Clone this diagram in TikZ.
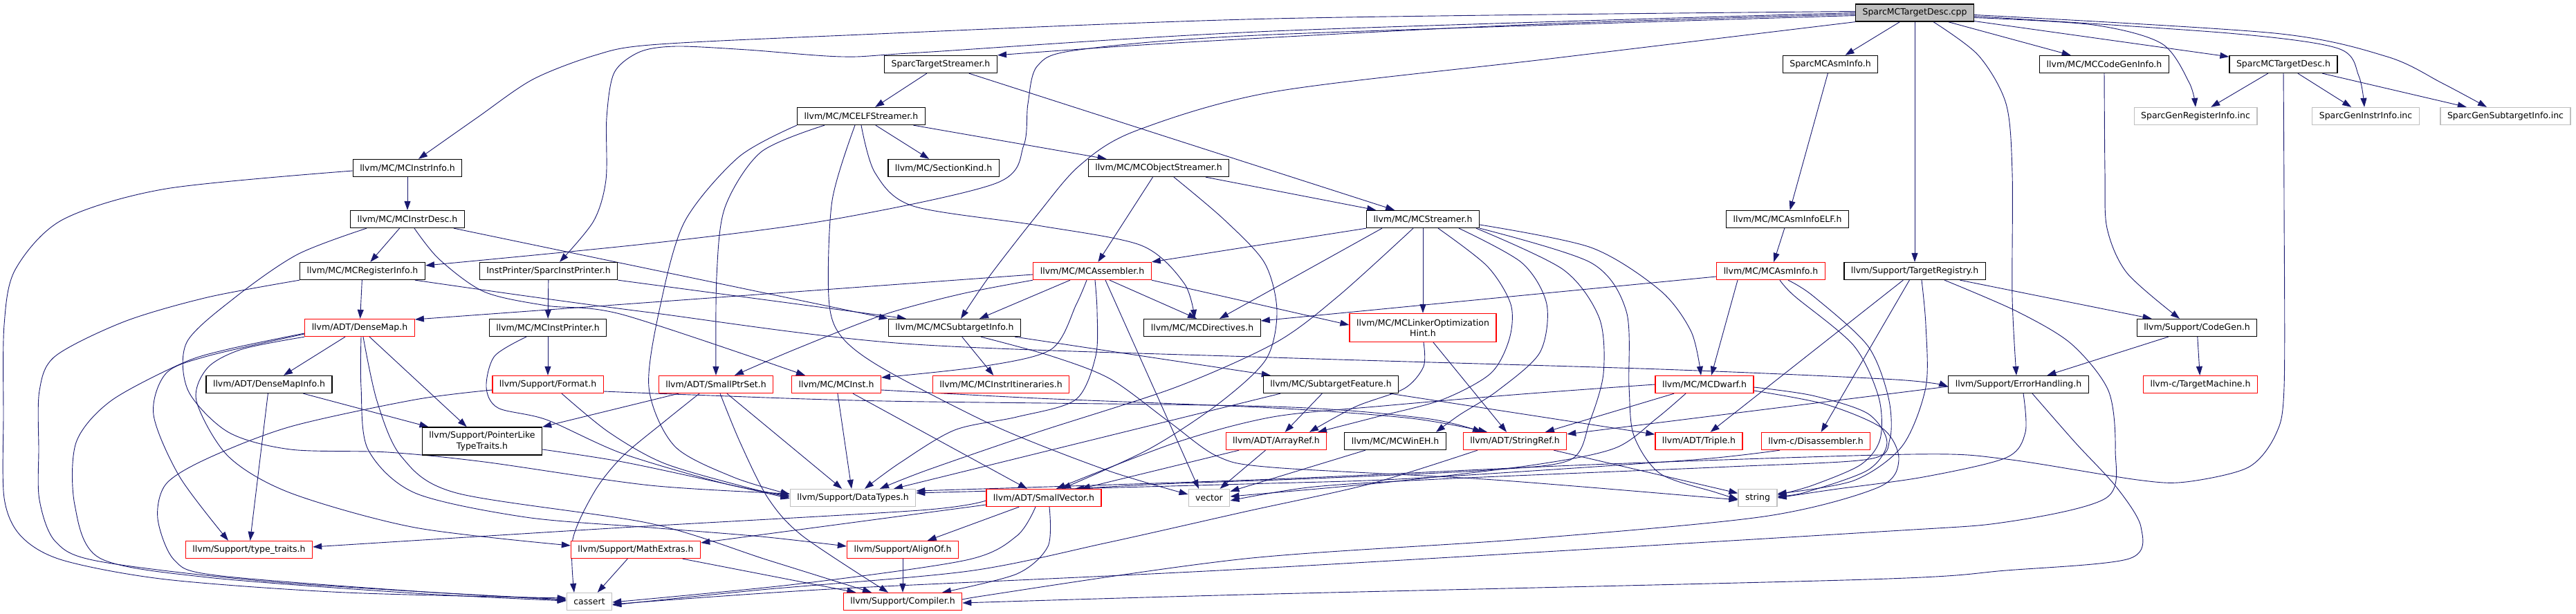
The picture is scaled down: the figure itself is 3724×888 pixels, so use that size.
\documentclass[tikz,border=0pt]{standalone}
\usepackage{fontspec}
\usetikzlibrary{arrows.meta,backgrounds}
\newfontfamily\dxfamily{DejaVu Sans}
\newcommand\dxfont{\dxfamily\fontsize{12.5}{15.3}\selectfont}
\definecolor{depblue}{RGB}{25,25,112}
\definecolor{extgray}{RGB}{191,191,191}

\begin{document}
\begin{tikzpicture}[
  x=1pt, y=-1pt,
  hdr/.style={draw=black, fill=white, line width=1.3pt, minimum height=25pt,
              inner xsep=10pt, inner ysep=1pt, font=\dxfont, align=center},
  trunc/.style={hdr, draw=red},
  ext/.style={hdr, draw=extgray},
  rootbox/.style={hdr, fill=extgray},
  dep/.style={draw=depblue, line width=0.9pt, -{Triangle[length=13pt,width=9pt]}}
]
\useasboundingbox (0,0) rectangle (3724,888);

\node[rootbox] (root) at (2768,18.5) {SparcMCTargetDesc.cpp};

\node[hdr] (sts) at (1360,93) {SparcTargetStreamer.h};
\node[hdr] (sai) at (2646,93) {SparcMCAsmInfo.h};
\node[hdr] (cgi) at (3042,93) {llvm/MC/MCCodeGenInfo.h};
\node[hdr] (std) at (3301,93) {SparcMCTargetDesc.h};

\node[hdr] (elf) at (1245,168) {llvm/MC/MCELFStreamer.h};
\node[ext] (gri) at (3174,168) {SparcGenRegisterInfo.inc};
\node[ext] (gii) at (3420,168) {SparcGenInstrInfo.inc};
\node[ext] (gsi) at (3622,168) {SparcGenSubtargetInfo.inc};

\node[hdr] (iinfo) at (589,243) {llvm/MC/MCInstrInfo.h};
\node[hdr] (sk) at (1364,243) {llvm/MC/SectionKind.h};
\node[hdr] (obj) at (1675,243) {llvm/MC/MCObjectStreamer.h};

\node[hdr] (idesc) at (589,317) {llvm/MC/MCInstrDesc.h};
\node[hdr] (mstr) at (2057,317) {llvm/MC/MCStreamer.h};
\node[hdr] (aelf) at (2584,317) {llvm/MC/MCAsmInfoELF.h};

\node[hdr] (reg) at (524,392) {llvm/MC/MCRegisterInfo.h};
\node[hdr] (ipr) at (793,392) {InstPrinter/SparcInstPrinter.h};
\node[trunc] (asmb) at (1579,392) {llvm/MC/MCAssembler.h};
\node[trunc] (ainfo) at (2560,392) {llvm/MC/MCAsmInfo.h};
\node[hdr] (treg) at (2768,392) {llvm/Support/TargetRegistry.h};

\node[trunc] (dmap) at (520,474) {llvm/ADT/DenseMap.h};
\node[hdr] (iprn) at (792,474) {llvm/MC/MCInstPrinter.h};
\node[hdr] (sti) at (1380,474) {llvm/MC/MCSubtargetInfo.h};
\node[hdr] (dir) at (1738,474) {llvm/MC/MCDirectives.h};
\node[trunc, minimum height=41pt] (loh) at (2057,474) {llvm/MC/MCLinkerOptimization\\Hint.h};
\node[hdr] (cg) at (3176,474) {llvm/Support/CodeGen.h};

\node[hdr] (dminfo) at (389,556) {llvm/ADT/DenseMapInfo.h};
\node[trunc] (fmt) at (792,556) {llvm/Support/Format.h};
\node[trunc] (sps) at (1035,556) {llvm/ADT/SmallPtrSet.h};
\node[trunc] (inst) at (1209,556) {llvm/MC/MCInst.h};
\node[trunc] (itin) at (1447,556) {llvm/MC/MCInstrItineraries.h};
\node[hdr] (sfeat) at (1924,556) {llvm/MC/SubtargetFeature.h};
\node[trunc] (dwarf) at (2464,556) {llvm/MC/MCDwarf.h};
\node[hdr] (err) at (2918,556) {llvm/Support/ErrorHandling.h};
\node[trunc] (tm) at (3181,556) {llvm-c/TargetMachine.h};

\node[hdr, minimum height=40pt] (pltt) at (697,638) {llvm/Support/PointerLike\\TypeTraits.h};
\node[trunc] (aref) at (1845,638) {llvm/ADT/ArrayRef.h};
\node[hdr] (wineh) at (2017,638) {llvm/MC/MCWinEH.h};
\node[trunc] (sref) at (2190,638) {llvm/ADT/StringRef.h};
\node[trunc] (triple) at (2456,638) {llvm/ADT/Triple.h};
\node[trunc] (disasm) at (2625,638) {llvm-c/Disassembler.h};

\node[ext] (dt) at (1233,720) {llvm/Support/DataTypes.h};
\node[trunc] (svec) at (1509,720) {llvm/ADT/SmallVector.h};
\node[ext] (vec) at (1748,720) {vector};
\node[ext] (str) at (2541,720) {string};

\node[trunc] (tt) at (360,795) {llvm/Support/type\_traits.h};
\node[trunc] (mext) at (919,795) {llvm/Support/MathExtras.h};
\node[trunc] (alof) at (1305,795) {llvm/Support/AlignOf.h};

\node[ext] (cassert) at (852,870) {cassert};
\node[trunc] (cmp) at (1305,870) {llvm/Support/Compiler.h};

\begin{scope}[on background layer]
\draw[dep] (root) -- (sai);
\draw[dep] (root) -- (cgi);
\draw[dep] (root) -- (std);
\draw[dep] (root) -- (treg);
\draw[dep] plot[smooth] coordinates {([yshift=-2pt]root.west) (2200,36) (1700,62) (sts.north east)};
\draw[dep] plot[smooth] coordinates {([yshift=2pt]root.west) (1840,27) (1200,52) (940,65) (860,80) (770,115) (690,170) ([xshift=16pt]iinfo.north)};
\draw[dep] plot[smooth] coordinates {(root.west) (1840,45) (1330,76) (1218,82) (1080,72) (978,67) (925,75) (888,105) (877,170) (876,260) (858,320) ([xshift=16pt]ipr.north)};
\draw[dep] plot[smooth] coordinates {([yshift=-4pt]root.west) (1840,50) (1560,72) (1500,95) (1486,150) (1480,210) (1440,265) (1200,318) (940,352) ([yshift=8pt]reg.east)};
\draw[dep] plot[smooth] coordinates {(root.south west) (2240,85) (1840,133) (1640,190) (1560,240) (1500,310) (1430,400) ([xshift=9pt]sti.north)};
\draw[dep] plot[smooth] coordinates {([yshift=-7pt]root.east) (3026,36) (3125,63) (3165,120) (gri.north)};
\draw[dep] plot[smooth] coordinates {([yshift=-5pt]root.east) (3222,48) (3380,70) (3410,110) ([xshift=-2pt]gii.north)};
\draw[dep] plot[smooth] coordinates {([yshift=-3pt]root.east) (3288,48) (3451,82) (3530,120) ([xshift=-27pt]gsi.north)};
\draw[dep] plot[smooth] coordinates {([xshift=27pt]root.south) (2860,80) (2900,150) (2909,250) (2909,430) ([xshift=-3pt]err.north)};

\draw[dep] (sts) -- (elf);
\draw[dep] (sts) -- (mstr);
\draw[dep] (sai) -- (aelf);
\draw[dep] (aelf) -- (ainfo);
\draw[dep] plot[smooth] coordinates {(cgi.south) (3043,250) (3046,330) (3075,395) ([xshift=-25pt]cg.north)};
\draw[dep] (std) -- (gri);
\draw[dep] (std) -- (gii);
\draw[dep] (std) -- (gsi);
\draw[dep] plot[smooth] coordinates {(std.south) (3302,300) (3302,560) (3290,628) (3250,676) (3160,697) (3090,694) (2900,664) (2765,657) (2300,672) (1840,693) ([yshift=10pt]dt.east)};

\draw[dep] (iinfo) -- (idesc);
\draw[dep] plot[smooth] coordinates {([yshift=-4pt]iinfo.west) (240,273) (90,318) (22,390) (6,470) (5,600) (6,720) (30,775) (90,810) (240,838) (500,857) ([yshift=5pt]cassert.west)};

\draw[dep] (idesc) -- (reg);
\draw[dep] ([xshift=67pt]idesc.south) -- (sti.north west);
\draw[dep] plot[smooth] coordinates {([xshift=10pt]idesc.south) (635,375) (700,422) (790,442) (900,455) ([xshift=-45pt]inst.north)};
\draw[dep] plot[smooth] coordinates {([xshift=-59pt]idesc.south) (430,368) (340,430) (270,495) (272,565) (330,625) (420,650) (560,654) (700,668) (940,702) ([yshift=6pt]dt.west)};

\draw[dep] (reg) -- (dmap);
\draw[dep] plot[smooth] coordinates {([xshift=76pt]reg.south) (760,428) (940,452) (1308,497) (1840,517) (2400,534) (2740,549) ([yshift=-3pt]err.west)};
\draw[dep] plot[smooth] coordinates {(reg.south west) (300,430) (180,465) (80,515) (57,565) (56,650) (57,723) (80,783) (144,812) (400,842) ([yshift=2pt]cassert.west)};

\draw[dep] (ipr) -- (iprn);
\draw[dep] (ipr.south east) -- ([xshift=-70pt]sti.north);

\draw[dep] (elf) -- (sk);
\draw[dep] (elf) -- (obj);
\draw[dep] plot[smooth] coordinates {([xshift=-53pt]elf.south) (1100,220) (1048,300) (1036,400) (sps.north)};
\draw[dep] plot[smooth] coordinates {([xshift=-93pt]elf.south) (1068,227) (990,320) (955,440) (938,560) (975,645) (1060,690) ([yshift=5pt]dt.west)};
\draw[dep] plot[smooth] coordinates {([xshift=-9pt]elf.south) (1203,290) (1198,430) (1215,485) (1275,532) (1440,617) (1600,680) ([yshift=5pt]vec.west)};
\draw[dep] plot[smooth] coordinates {(elf.south) (1265,250) (1320,298) (1500,326) (1650,355) (1712,410) ([xshift=-11pt]dir.north)};

\draw[dep] (obj) -- (asmb);
\draw[dep] (obj) -- (mstr);
\draw[dep] plot[smooth] coordinates {([xshift=22pt]obj.south) (1769,317) (1828,380) (1846,450) (1830,520) (1760,585) (1660,650) ([xshift=26pt]svec.north)};

\draw[dep] (mstr.south west) -- (asmb.north east);
\draw[dep] ([xshift=-59pt]mstr.south) -- ([xshift=25pt]dir.north);
\draw[dep] (mstr) -- (loh);
\draw[dep] plot[smooth] coordinates {([xshift=-14pt]mstr.south) (1935,428) (1845,495) (1700,560) (1500,625) (1340,680) ([xshift=39pt]dt.north)};
\draw[dep] plot[smooth] coordinates {([xshift=22pt]mstr.south) (2150,385) (2184,440) (2182,490) (2155,540) (2085,578) (1990,603) ([xshift=60pt]aref.north)};
\draw[dep] plot[smooth] coordinates {([xshift=52pt]mstr.south) (2200,380) (2236,440) (2226,510) (2165,565) (2110,600) ([xshift=59pt]wineh.north)};
\draw[dep] plot[smooth] coordinates {([xshift=77pt]mstr.south) (2260,390) (2312,460) (2318,540) (2298,610) (2270,665) (2150,680) (1900,692) (1680,700) ([xshift=45pt]svec.north)};
\draw[dep] plot[smooth] coordinates {(mstr.south east) (2300,380) (2351,450) (2355,560) (2362,630) (2400,685) (2480,712) ([yshift=-2pt]str.west)};
\draw[dep] plot[smooth] coordinates {([yshift=-8pt]mstr.east) (2300,358) (2400,420) (2445,480) ([xshift=-5pt]dwarf.north)};

\draw[dep] ([yshift=-5pt]asmb.west) -- ([yshift=12pt]dmap.east);
\draw[dep] plot[smooth] coordinates {(asmb.south west) (1390,425) (1278,455) (1150,505) ([xshift=27pt]sps.north)};
\draw[dep] ([xshift=-32pt]asmb.south) -- ([xshift=36pt]sti.north);
\draw[dep] plot[smooth] coordinates {([xshift=-8pt]asmb.south) (1556,440) (1520,505) (1420,530) ([yshift=10pt]inst.east)};
\draw[dep] plot[smooth] coordinates {([xshift=4pt]asmb.south) (1586,450) (1584,515) (1555,578) (1470,603) (1380,622) (1300,670) ([xshift=17pt]dt.north)};
\draw[dep] ([xshift=19pt]asmb.south) -- ([xshift=-15pt]vec.north);
\draw[dep] ([xshift=25pt]asmb.south) -- ([xshift=-8pt]dir.north);
\draw[dep] (asmb.south east) -- ([yshift=4pt]loh.west);

\draw[dep] ([yshift=-8pt]ainfo.west) -- ([yshift=10pt]dir.east);
\draw[dep] ([xshift=-48pt]ainfo.south) -- ([xshift=10pt]dwarf.north);
\draw[dep] plot[smooth] coordinates {([xshift=13pt]ainfo.south) (2594,428) (2680,500) (2716,575) (2718,635) (2690,672) (2620,702) ([yshift=4pt]str.east)};
\draw[dep] plot[smooth] coordinates {([xshift=25pt]ainfo.south) (2621,428) (2700,500) (2730,575) (2732,635) (2702,664) (2500,675) (2100,692) (1900,704) ([yshift=-4pt]vec.east)};

\draw[dep] (treg) -- (triple);
\draw[dep] (treg) -- (disasm);
\draw[dep] (treg) -- (cg);
\draw[dep] plot[smooth] coordinates {([xshift=10pt]treg.south) (2784,470) (2784,560) (2750,645) (2680,695) ([yshift=6pt]str.east)};
\draw[dep] plot[smooth] coordinates {([xshift=43pt]treg.south) (2915,450) (2994,497) (3048,565) (3058,650) (3045,720) (2900,755) (2700,770) (1800,823) (1200,852) ([yshift=-4pt]cassert.east)};

\draw[dep] (cg) -- (err);
\draw[dep] (cg) -- (tm);

\draw[dep] ([yshift=-3pt]err.west) -- ([yshift=-3pt]sref.north east);
\draw[dep] plot[smooth] coordinates {([xshift=7pt]err.south) (2928,625) (2900,662) (2780,690) (2650,708) (str.east)};
\draw[dep] plot[smooth] coordinates {([xshift=20pt]err.south) (3000,640) (3060,705) (3095,762) (3078,808) (2900,825) (2700,838) (1800,860) ([yshift=-2pt]cmp.east)};

\draw[dep] (dmap) -- (dminfo);
\draw[dep] (dmap) -- (pltt);
\draw[dep] plot[smooth] coordinates {([yshift=-9pt]dmap.west) (300,515) (240,540) (222,600) (260,690) ([xshift=-30pt]tt.north)};
\draw[dep] plot[smooth] coordinates {([yshift=-8pt]dmap.west) (330,505) (264,525) (160,580) (110,640) (108,730) (144,807) (300,835) (600,858) ([yshift=1pt]cassert.west)};
\draw[dep] plot[smooth] coordinates {(dmap.south west) (350,505) (300,532) (284,580) (330,660) (420,713) (600,763) ([yshift=6pt]mext.west)};
\draw[dep] plot[smooth] coordinates {([xshift=2pt]dmap.south) (522,560) (532,650) (600,713) (760,748) (940,763) (1100,776) ([yshift=5pt]alof.west)};
\draw[dep] plot[smooth] coordinates {([xshift=5pt]dmap.south) (545,580) (580,660) (660,713) (940,757) (1110,810) ([xshift=-45pt]cmp.north)};

\draw[dep] (dminfo) -- (tt);
\draw[dep] (dminfo) -- (pltt);

\draw[dep] (iprn) -- (fmt);
\draw[dep] plot[smooth] coordinates {([xshift=-31pt]iprn.south) (715,515) (703,560) (720,590) (790,607) (900,656) (1050,700) ([yshift=3pt]dt.west)};

\draw[dep] plot[smooth] coordinates {([yshift=-8pt]fmt.west) (600,578) (420,617) (300,663) (240,700) (228,750) (252,810) (312,832) (600,855) ([yshift=3pt]cassert.west)};
\draw[dep] plot[smooth] coordinates {([yshift=-10pt]fmt.east) (1000,571) (1278,580) (1840,588) (2060,605) ([xshift=-48pt]sref.north)};
\draw[dep] plot[smooth] coordinates {([xshift=20pt]fmt.south) (880,625) (960,670) (1080,705) ([yshift=1pt]dt.west)};

\draw[dep] plot[smooth] coordinates {([yshift=-12pt]pltt.east) (900,668) (1050,700) ([yshift=-1pt]dt.west)};

\draw[dep] ([xshift=-54pt]sps.south) -- (pltt.north east);
\draw[dep] plot[smooth] coordinates {([xshift=-24pt]sps.south) (960,610) (900,660) (860,710) (828,780) ([xshift=-22pt]cassert.north)};
\draw[dep] plot[smooth] coordinates {([xshift=6pt]sps.south) (1070,640) (1110,720) (1160,775) ([xshift=-21pt]cmp.north)};
\draw[dep] (sps) -- (dt);

\draw[dep] (inst) -- (dt);
\draw[dep] (inst) -- (svec);
\draw[dep] plot[smooth] coordinates {([yshift=-8pt]inst.east) (1500,576) (1840,590) (2040,605) ([xshift=-40pt]sref.north)};

\draw[dep] (sti) -- (itin);
\draw[dep] (sti) -- (sfeat);
\draw[dep] plot[smooth] coordinates {([xshift=38pt]sti.south) (1520,515) (1605,548) (1690,610) (1760,660) (1840,676) (2160,694) ([yshift=-3pt]str.west)};

\draw[dep] plot[smooth] coordinates {([xshift=1pt]loh.south) (2058,530) (2030,562) (1960,588) ([xshift=48pt]aref.north)};
\draw[dep] ([xshift=15pt]loh.south) -- ([xshift=-12pt]sref.north);

\draw[dep] (sfeat) -- (aref);
\draw[dep] (sfeat) -- (triple);
\draw[dep] ([xshift=-73pt]sfeat.south) -- ([xshift=59pt]dt.north);

\draw[dep] (dwarf) -- (sref);
\draw[dep] plot[smooth] coordinates {(dwarf.west) (2200,570) (2000,587) (1840,603) (1700,640) ([xshift=18pt]svec.north)};
\draw[dep] plot[smooth] coordinates {([xshift=-27pt]dwarf.south) (2395,605) (2335,648) (2220,672) (2000,698) ([yshift=2pt]vec.east)};
\draw[dep] plot[smooth] coordinates {([yshift=-4pt]dwarf.east) (2620,572) (2700,598) (2728,640) (2700,680) (2610,712) ([yshift=2pt]str.east)};
\draw[dep] plot[smooth] coordinates {([yshift=-9pt]dwarf.east) (2640,585) (2722,620) (2745,665) (2715,705) (2550,747) (2200,780) (1800,808) (1420,862) (cmp.east)};

\draw[dep] (sref) -- (str);
\draw[dep] plot[smooth] coordinates {([xshift=-54pt]sref.south) (1980,700) (1800,740) (1600,785) (1400,826) (1100,853) ([yshift=-5pt]cassert.east)};

\draw[dep] (aref) -- (svec);
\draw[dep] (aref) -- (vec);
\draw[dep] (wineh) -- (vec);

\draw[dep] plot[smooth] coordinates {([xshift=-52pt]disasm.south) (2460,664) (2200,682) (2000,694) (1800,700) ([yshift=7pt]dt.east)};

\draw[dep] plot[smooth] coordinates {([yshift=-4pt]svec.west) (1330,738) (900,763) ([yshift=4pt]tt.east)};
\draw[dep] ([yshift=-10pt]svec.west) -- ([yshift=10pt]mext.east);
\draw[dep] (svec) -- (alof);
\draw[dep] plot[smooth] coordinates {([xshift=-12pt]svec.south) (1470,775) (1397,810) (1150,845) ([yshift=-1pt]cassert.east)};
\draw[dep] plot[smooth] coordinates {([xshift=8pt]svec.south) (1515,790) (1470,830) ([xshift=57pt]cmp.north)};

\draw[dep] (mext) -- (cmp);
\draw[dep] (mext) -- (cassert);
\draw[dep] (alof) -- (cmp);
\end{scope}
\end{tikzpicture}
\end{document}
